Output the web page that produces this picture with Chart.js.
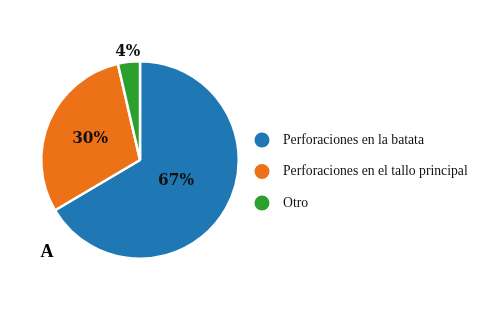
<!DOCTYPE html>
<html>
<head>
<meta charset="utf-8">
<script src="https://cdn.jsdelivr.net/npm/chart.js@4"></script>
<style>
  html, body { margin: 0; padding: 0; background: #fff; }
  #wrap { position: relative; width: 483px; height: 318px; }
</style>
</head>
<body>
<div id="wrap"><canvas id="pieChart" width="483" height="318"></canvas></div>
<script>
// Pie data
const categories = ["Perforaciones en la batata", "Perforaciones en el tallo principal", "Otro"];
const shares = [66.5, 29.9, 3.6];
const shareLabels = ["67%", "30%", "4%"];
const colors = ["#1f77b4", "#ed7117", "#2ca02c"];

// Distance of each percentage label from the centre, as a fraction of radius
const labelRadius = [0.42, 0.55, 1.1];

// Percentage labels drawn on the slices
const sliceLabels = {
  id: "sliceLabels",
  afterDatasetsDraw(chart) {
    const ctx = chart.ctx;
    const arcs = chart.getDatasetMeta(0).data;
    ctx.save();
    ctx.font = "bold 17px 'DejaVu Serif Condensed', 'DejaVu Serif'";
    ctx.fillStyle = "#111";
    ctx.textAlign = "center";
    ctx.textBaseline = "middle";
    arcs.forEach((arc, i) => {
      const mid = (arc.startAngle + arc.endAngle) / 2;
      const r = arc.outerRadius * labelRadius[i];
      ctx.fillText(shareLabels[i], arc.x + Math.cos(mid) * r, arc.y + Math.sin(mid) * r);
    });
    ctx.restore();
  }
};

// Legend with round markers on the right, plus the panel letter
const sideLegend = {
  id: "sideLegend",
  afterDraw(chart) {
    const ctx = chart.ctx;
    ctx.save();
    ctx.textBaseline = "middle";
    categories.forEach((name, i) => {
      const y = 140 + i * 31.5;
      ctx.beginPath();
      ctx.arc(262, y, 7.5, 0, Math.PI * 2);
      ctx.fillStyle = colors[i];
      ctx.fill();
      ctx.fillStyle = "#111";
      ctx.font = "13.7px 'Liberation Serif'";
      ctx.textAlign = "left";
      ctx.fillText(name, 283, y);
    });
    ctx.font = "bold 18px 'Liberation Serif'";
    ctx.fillStyle = "#000";
    ctx.textAlign = "center";
    ctx.fillText("A", 47, 252);
    ctx.restore();
  }
};

new Chart(document.getElementById("pieChart"), {
  type: "pie",
  data: {
    labels: categories,
    datasets: [{
      data: shares,
      backgroundColor: colors,
      borderColor: "#fff",
      borderWidth: 2.5
    }]
  },
  options: {
    responsive: false,
    animation: false,
    layout: { padding: { left: 40, top: 60, bottom: 58, right: 243 } },
    plugins: {
      legend: { display: false },
      tooltip: { enabled: false }
    }
  },
  plugins: [sliceLabels, sideLegend]
});
</script>
</body>
</html>
